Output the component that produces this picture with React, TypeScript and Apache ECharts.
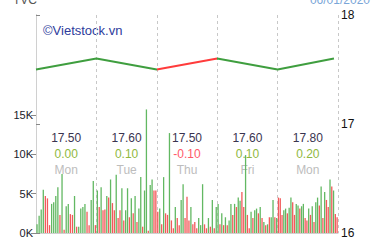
import React, { useEffect, useRef } from "react";
import * as echarts from "echarts";

// Session labels (one per trading day)
const dayNames = ["Mon", "Tue", "Thu", "Fri", "Mon"];
const dayPrices = ["17.50", "17.60", "17.50", "17.60", "17.80"];
const dayChanges = ["0.00", "0.10", "-0.10", "0.10", "0.20"];

// Closing-price line (x in intraday slots, 30 slots per day)
const lineX = [0, 30, 60, 90, 120, 148];
const linePrice = [17.5, 17.6, 17.5, 17.6, 17.5, 17.6];

// Intraday volumes in thousands; negative = down tick (red), positive = up tick (green)
const volMon1 = [1.1, 2.2, 3.0, 5.5, -4.7, -4.4, -1.0, 3.7, 3.9, 4.7, 5.8, -2.3, 7.5, -0.4, 3.4, 3.7, -2.4, -2.3, 4.7, -0.8, 0.8, 3.1, 3.3, 3.7, -2.7, -1.0, 4.2, 6.6, -1.0];
const volTue = [5.4, -3.3, 5.8, -2.9, -3.0, 4.7, -4.5, 6.8, -3.8, -2.9, 7.4, -1.9, -2.9, 5.7, -1.6, 2.9, 5.7, -2.0, 4.4, -2.5, 4.7, -1.4, 3.1, 7.1, -0.8, 5.4, 15.7, -0.3, 6.1, 6.8, -5.4, -5.4];
const volThu = [-2.7, 3.1, -1.1, 7.1, -2.5, -2.3, 12.7, -1.6, -0.6, 3.3, -1.9, -1.0, 4.2, 6.2, -1.9, -4.6, -1.6, 3.3, -1.1, -1.4, -0.6, 1.9, 1.0, 6.2, -1.1, -0.6, 1.9, -0.8, 4.2, -0.6, 3.3];
const volFri = [3.7, -1.1, 2.5, -1.0, 2.0, -1.0, 1.6, 3.7, -2.3, 3.7, -3.3, 4.5, 4.1, -5.2, -3.3, 9.9, -2.3, -0.6, 2.7, -1.9, 2.9, 3.1, -2.5, 3.3, -1.9, 1.4, -1.0, 1.1, -2.0, 2.0, 4.2, -2.0, 1.9];
const volMon2 = [-4.5, -4.4, -2.3, 2.9, 3.1, -2.5, 3.2, 4.5, -3.9, -2.3, 3.7, 3.5, -3.1, 3.4, 3.7, -1.9, -1.6, 3.1, -2.3, 3.4, -1.4, 3.9, 4.5, -3.5, 5.9, -1.9, 5.2, -4.2, -3.3, 6.8, -5.9, 5.4, -2.4, -2.0];
const dayVolumes = [volMon1, volTue, volThu, volFri, volMon2];

const volTicks = [0, 5000, 10000, 15000];
const priceTicks = [16, 17, 18];

const GREEN = "#62b862";
const RED = "#f25a5a";
const FONT = "Liberation Sans";

export default function App() {
  const ref = useRef<HTMLDivElement>(null);
  useEffect(() => {
    if (!ref.current) return;
    const chart = echarts.init(ref.current, undefined, { renderer: "svg" });
    const slots = 30;
    const barData: any[] = [];
    dayVolumes.forEach((vols, d) => {
      vols.forEach((v, j) => {
        barData.push({
          value: [d * slots + ((j + 0.5) * slots) / vols.length, Math.abs(v) * 1000],
          itemStyle: { color: v >= 0 ? GREEN : RED },
        });
      });
    });
    chart.setOption({
      animation: false,
      grid: { left: 36, right: 42, top: 15, bottom: 7 },
      graphic: [
        { type: "text", left: 13, top: -6, style: { text: "TVC", fill: "#555", font: `12px '${FONT}'` } },
        { type: "text", right: 10, top: -6, style: { text: "06/01/2020", fill: "#7aa6d8", font: `12px '${FONT}'` } },
        { type: "text", left: 43, top: 24, style: { text: "©Vietstock.vn", fill: "#2e3c9c", font: `13px '${FONT}'` } },
      ],
      visualMap: {
        show: false,
        type: "piecewise",
        seriesIndex: 1,
        dimension: 0,
        pieces: [
          { lt: 60, color: "#3f9e3f" },
          { gte: 60, lt: 90, color: "#ff3b3b" },
          { gte: 90, color: "#3f9e3f" },
        ],
      },
      xAxis: [
        {
          type: "value",
          min: 0,
          max: 150,
          interval: 30,
          axisLabel: { show: false },
          axisTick: { show: false },
          axisLine: { show: true, lineStyle: { color: "#d0d0d0" } },
          splitLine: { show: true, lineStyle: { type: [3, 3], color: "#c8c8c8" } },
        },
        {
          type: "category",
          position: "top",
          data: dayNames,
          boundaryGap: true,
          axisLine: { show: false },
          axisTick: { show: false },
          splitLine: { show: false },
          axisLabel: {
            inside: true,
            margin: 115,
            interval: 0,
            formatter: (_: string, i: number) => {
              const c = dayChanges[i];
              const cs = c.startsWith("-") ? "r" : "g";
              return `{p|${dayPrices[i]}}\n{${cs}|${c}}\n{d|${dayNames[i]}}`;
            },
            rich: {
              p: { color: "#3a3450", fontSize: 12, fontFamily: FONT, lineHeight: 16 },
              g: { color: "#8fb83e", fontSize: 12, fontFamily: FONT, lineHeight: 16 },
              r: { color: "#ff5a6a", fontSize: 12, fontFamily: FONT, lineHeight: 16 },
              d: { color: "#bdbdbd", fontSize: 12, fontFamily: FONT, lineHeight: 16 },
            },
          },
        },
      ],
      yAxis: [
        {
          type: "value",
          position: "right",
          min: 16,
          max: 18,
          interval: 1,
          axisLine: { show: true, lineStyle: { color: "#a8a8a8" } },
          axisTick: { show: true, length: 4, lineStyle: { color: "#888" } },
          axisLabel: {
            color: "#111",
            fontSize: 12,
            fontFamily: FONT,
            margin: 3,
            customValues: priceTicks,
          },
          splitLine: { show: false },
        },
        {
          type: "value",
          position: "left",
          min: 0,
          max: 27700,
          axisLine: { show: true, lineStyle: { color: "#d0d0d0" } },
          axisTick: { show: true, length: 5, lineStyle: { color: "#888" }, customValues: volTicks },
          axisLabel: {
            color: "#1a1a2a",
            fontSize: 11,
            fontFamily: FONT,
            margin: 3,
            customValues: volTicks,
            formatter: (v: number) => `${v / 1000}K`,
          },
          splitLine: { show: false },
        },
      ],
      series: [
        {
          type: "bar",
          xAxisIndex: 0,
          yAxisIndex: 1,
          barWidth: 1.3,
          data: barData,
        },
        {
          type: "line",
          xAxisIndex: 0,
          yAxisIndex: 0,
          symbol: "none",
          lineStyle: { width: 2 },
          data: lineX.map((x, i) => [x, linePrice[i]]),
        },
      ],
    });
    return () => chart.dispose();
  }, []);
  return (
    <div
      ref={ref}
      style={{ position: "absolute", left: 0, top: 0, width: 380, height: 240, background: "#fff" }}
    />
  );
}
